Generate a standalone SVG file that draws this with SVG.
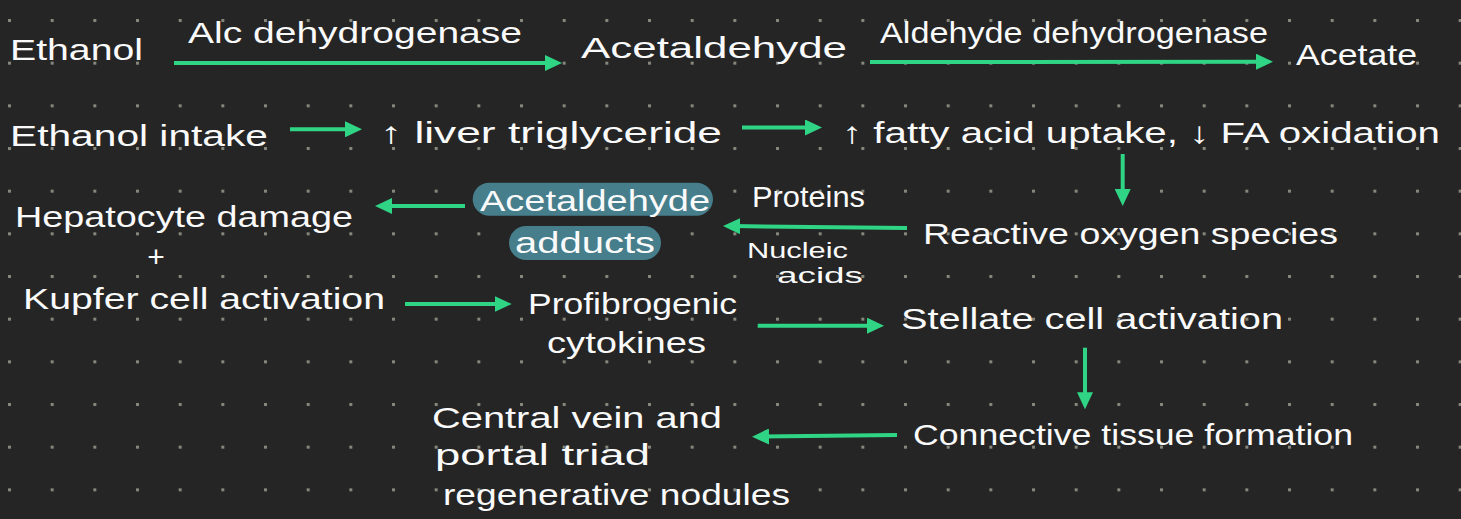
<svg xmlns="http://www.w3.org/2000/svg" width="1461" height="519" viewBox="0 0 1461 519">
  <defs>
    <pattern id="dots" patternUnits="userSpaceOnUse" x="8" y="19" width="42.667" height="42.667">
      <rect x="0" y="0" width="3" height="3" fill="#86867c"/>
    </pattern>
    <marker id="ah" viewBox="0 0 17 16" refX="7" refY="8" markerWidth="17" markerHeight="16" markerUnits="userSpaceOnUse" orient="auto">
      <path d="M0,0 L17,8 L0,16 Z" fill="#2fd585"/>
    </marker>
    <style>
      text { font-family: "Liberation Sans", "DejaVu Sans", sans-serif; font-size: 30px; fill: #fafafa; }
      .sm { font-size: 22px; }
      .conn line { stroke: #2fd585; stroke-width: 4; marker-end: url(#ah); }
      .hl { fill: #467e8c; }
    </style>
  </defs>
  <rect width="1461" height="519" fill="#252525"/>
  <rect width="1461" height="519" fill="url(#dots)"/>

  <g id="connectors" class="conn">
    <line x1="174" y1="63" x2="552" y2="63"/>
    <line x1="870" y1="62" x2="1263" y2="61.7"/>
    <line x1="290" y1="129.3" x2="352" y2="129.3"/>
    <line x1="742" y1="127.5" x2="812" y2="127.5"/>
    <line x1="1122.7" y1="154" x2="1122.7" y2="196"/>
    <line x1="465" y1="206" x2="385" y2="206"/>
    <line x1="907" y1="228" x2="733" y2="226.1"/>
    <line x1="405" y1="304" x2="501.7" y2="304"/>
    <line x1="757.7" y1="325.7" x2="874" y2="325.7"/>
    <line x1="1085" y1="347.7" x2="1085" y2="399.3"/>
    <line x1="897" y1="435" x2="762" y2="436.6"/>
  </g>

  <g id="ethanol"><text x="10" y="60" textLength="133" lengthAdjust="spacingAndGlyphs">Ethanol</text></g>
  <g id="alc-dh"><text x="188" y="43" textLength="334" lengthAdjust="spacingAndGlyphs">Alc dehydrogenase</text></g>
  <g id="acetaldehyde"><text x="581" y="58" textLength="266" lengthAdjust="spacingAndGlyphs">Acetaldehyde</text></g>
  <g id="ald-dh"><text x="880" y="43" textLength="388" lengthAdjust="spacingAndGlyphs">Aldehyde dehydrogenase</text></g>
  <g id="acetate"><text x="1296" y="65" textLength="121" lengthAdjust="spacingAndGlyphs">Acetate</text></g>

  <g id="ethanol-intake"><text x="10" y="146" textLength="258" lengthAdjust="spacingAndGlyphs">Ethanol intake</text></g>
  <g id="liver-tg"><text x="380" y="143" textLength="342" lengthAdjust="spacingAndGlyphs">↑ liver triglyceride</text></g>
  <g id="fatty-acid"><text x="842" y="143" textLength="598" lengthAdjust="spacingAndGlyphs">↑ fatty acid uptake, ↓ FA oxidation</text></g>

  <g id="hepatocyte">
    <text x="15" y="227" textLength="338" lengthAdjust="spacingAndGlyphs">Hepatocyte damage</text>
    <text x="156" y="267" text-anchor="middle">+</text>
    <text x="23" y="309" textLength="362" lengthAdjust="spacingAndGlyphs">Kupfer cell activation</text>
  </g>

  <g id="adducts">
    <rect class="hl" x="472.7" y="182.7" width="240.3" height="33" rx="16.5"/>
    <rect class="hl" x="509" y="226" width="152" height="34" rx="17"/>
    <text x="480" y="211" textLength="230" lengthAdjust="spacingAndGlyphs">Acetaldehyde</text>
    <text x="515" y="253" textLength="140" lengthAdjust="spacingAndGlyphs">adducts</text>
  </g>

  <g id="proteins"><text x="752" y="207" textLength="113" lengthAdjust="spacingAndGlyphs">Proteins</text></g>
  <g id="nucleic">
    <text class="sm" x="747" y="258" textLength="101" lengthAdjust="spacingAndGlyphs">Nucleic</text>
    <text class="sm" x="777" y="283" textLength="86" lengthAdjust="spacingAndGlyphs">acids</text>
  </g>
  <g id="ros"><text x="923" y="244" textLength="415" lengthAdjust="spacingAndGlyphs">Reactive oxygen species</text></g>

  <g id="profibrogenic">
    <text x="528" y="314" textLength="209" lengthAdjust="spacingAndGlyphs">Profibrogenic</text>
    <text x="547" y="353" textLength="159" lengthAdjust="spacingAndGlyphs">cytokines</text>
  </g>
  <g id="stellate"><text x="901" y="329" textLength="382" lengthAdjust="spacingAndGlyphs">Stellate cell activation</text></g>
  <g id="connective"><text x="913" y="445" textLength="440" lengthAdjust="spacingAndGlyphs">Connective tissue formation</text></g>

  <g id="central-vein">
    <text x="432" y="428" textLength="290" lengthAdjust="spacingAndGlyphs">Central vein and</text>
    <text x="435" y="465" textLength="215" lengthAdjust="spacingAndGlyphs">portal triad</text>
    <text x="443" y="505" textLength="347" lengthAdjust="spacingAndGlyphs">regenerative nodules</text>
  </g>
</svg>
